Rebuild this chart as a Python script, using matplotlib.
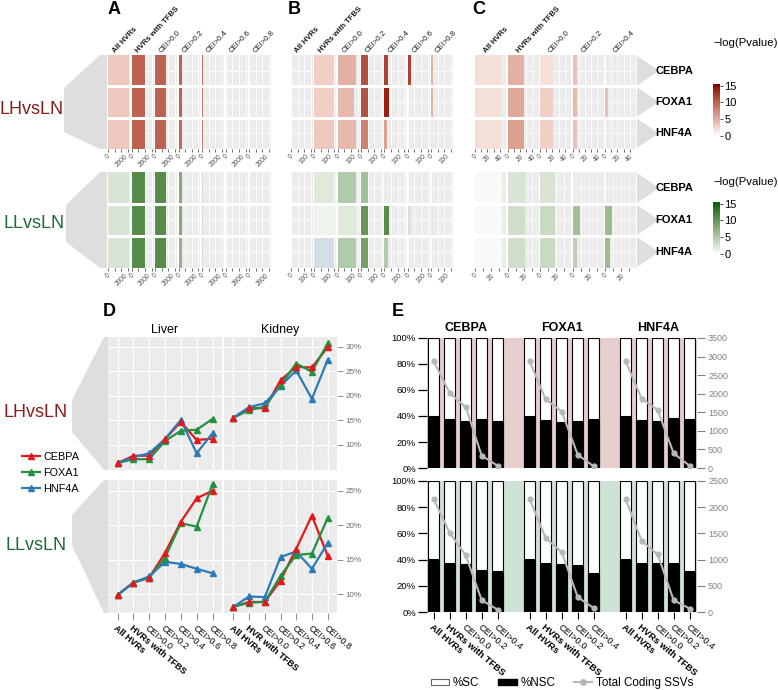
import numpy as np
import matplotlib
matplotlib.use('Agg')
import matplotlib.pyplot as plt
import matplotlib.colors as mcolors
from matplotlib.patches import Polygon, Patch
from matplotlib.lines import Line2D

nan = np.nan

# ---------------- data ----------------
tfs = ['CEBPA', 'FOXA1', 'HNF4A']
cats7 = ['All HVRs', 'HVRs with TFBS', 'CEI>0.0', 'CEI>0.2', 'CEI>0.4', 'CEI>0.6', 'CEI>0.8']
cats5 = cats7[:5]
kidney_cats = ['All HVRs', 'HVR with TFBS', 'CEI>0.0', 'CEI>0.2', 'CEI>0.4', 'CEI>0.6', 'CEI>0.8']

# panels A-C: bar length (count) and fill (-log Pvalue), rows = CEBPA, FOXA1, HNF4A
A_LH_count = [[3150, 2000, 1580, 560, 200, 130, 70],
              [3150, 2000, 1580, 560, 200, 130, 70],
              [3150, 2000, 1580, 560, 200, 130, 70]]
A_LH_logp = [[3.5, 10, 10, 10, 9, 8, 3],
             [3.5, 10, 10, 10, 8, 7, 3],
             [3.5, 10, 10, 9.5, 8, 7, 3]]
A_LL_count = [[3150, 2000, 1580, 560, 200, 130, 0],
              [3150, 2000, 1580, 560, 200, 130, 0],
              [3150, 2000, 1580, 560, 200, 130, 0]]
A_LL_logp = [[2.5, 11, 11, 8, 3, 3, nan],
             [2.5, 11, 11, 8, 3, 3, nan],
             [2.5, 11, 11, 7, 3, 4, nan]]

B_LH_count = [[0, 150, 137, 55, 25, 25, 12],
              [0, 148, 125, 55, 32, 0, 12],
              [0, 150, 135, 50, 22, 0, 10]]
B_LH_logp = [[nan, 3, 5, 11, 12, 12, 5],
             [nan, 3, 4.5, 11, 14, nan, 5],
             [nan, 3.5, 4.5, 8, 6, nan, 2]]
B_LL_count = [[0, 150, 137, 55, 20, 0, 0],
              [0, 150, 137, 55, 32, 25, 12],
              [0, 150, 137, 50, 25, 0, 0]]
B_LL_logp = [[nan, 2, 5, 6, 1.5, nan, nan],
             [nan, 1, 2, 10, 11, 2.5, 2],
             [nan, -1, 5, 9, 5, nan, nan]]

C_LH_count = [[42, 27, 21, 7, 0],
              [42, 27, 21, 7.5, 5],
              [42, 27, 21, 7, 0]]
C_LH_logp = [[2, 5, 2, 4, nan],
             [2, 5.5, 3, 4.5, 4],
             [2, 6, 3, 4, nan]]
C_LL_count = [[33, 22, 18.4, 5.8, 0],
              [33, 22, 18.4, 9.8, 8.2],
              [33, 22, 18.4, 6, 6]]
C_LL_logp = [[0.5, 2.5, 2.5, 1.5, nan],
             [0.5, 3, 3.5, 6, 6.5],
             [0.5, 3, 3.5, 4.5, 6.5]]

# panel D: percentages, rows = CEBPA, FOXA1, HNF4A
D_LH_liver = [[6.3, 7.8, 7.8, 11.2, 14.7, 11.0, 11.3],
              [6.3, 7.1, 7.1, 10.8, 12.9, 13.1, 15.3],
              [6.3, 7.5, 8.3, 11.2, 15.1, 8.3, 12.4]]
D_LH_kidney = [[15.55, 17.6, 17.45, 23.2, 25.9, 25.8, 29.9],
               [15.55, 17.1, 17.8, 22.2, 26.6, 24.9, 30.7],
               [15.55, 17.7, 18.5, 22.0, 25.2, 19.4, 27.3]]
D_LL_liver = [[9.9, 11.7, 12.4, 16.0, 20.5, 23.9, 25.0],
              [9.9, 11.7, 12.4, 15.3, 20.3, 19.8, 25.9],
              [9.9, 11.7, 12.6, 14.7, 14.4, 13.7, 13.05]]
D_LL_kidney = [[8.2, 8.9, 8.9, 12.0, 16.6, 21.4, 15.6],
               [8.2, 8.8, 8.9, 12.7, 15.7, 15.9, 21.0],
               [8.2, 9.7, 9.6, 15.4, 16.2, 13.7, 17.4]]

# panel E: %NSC and total coding SSVs
E_LH_nsc = [[39.7, 37.5, 35.8, 37.5, 35.8],
            [39.7, 36.6, 35.4, 35.8, 37.9],
            [39.7, 37.2, 36.0, 38.5, 37.9]]
E_LH_total = [[2870, 2020, 1640, 330, 60],
              [2870, 1850, 1520, 360, 45],
              [2870, 1870, 1560, 395, 60]]
E_LL_nsc = [[40.2, 37.7, 36.9, 32.4, 31.6],
            [40.2, 37.7, 37.0, 36.0, 30.0],
            [40.2, 37.7, 37.7, 37.7, 31.6]]
E_LL_total = [[2150, 1510, 1080, 225, 45],
              [2155, 1410, 1145, 285, 75],
              [2155, 1355, 1100, 225, 65]]

# ---------------- style ----------------
plt.rcParams['font.family'] = ['Liberation Sans', 'DejaVu Sans']

RED_TXT = '#8B1A1A'
GRN_TXT = '#1D6B35'
line_cols = ['#E3191C', '#23913F', '#2C7BB6']

W, H = 778, 690
fig = plt.figure(figsize=(W / 100, H / 100), dpi=100)


def add_ax(x0, y0, x1, y1):
    return fig.add_axes([x0 / W, 1 - y1 / H, (x1 - x0) / W, (y1 - y0) / H])


def ftext(x, y, s, **kw):
    return fig.text(x / W, 1 - y / H, s, **kw)


def funnel(pts):
    p = Polygon([(x / W, 1 - y / H) for x, y in pts], closed=True,
                transform=fig.transFigure, facecolor='#DEDEDE', edgecolor='none', zorder=-1)
    fig.add_artist(p)


# white -> dark colour, interpolated in Lab space
M = np.array([[0.4124, 0.3576, 0.1805], [0.2126, 0.7152, 0.0722], [0.0193, 0.1192, 0.9505]])
WHITE = M.sum(axis=1)


def to_lab(c):
    rgb = np.array(mcolors.to_rgb(c))
    lin = np.where(rgb <= 0.04045, rgb / 12.92, ((rgb + 0.055) / 1.055) ** 2.4)
    xyz = M @ lin / WHITE
    f = np.where(xyz > 0.008856, np.cbrt(xyz), 7.787 * xyz + 16 / 116)
    return np.array([116 * f[1] - 16, 500 * (f[0] - f[1]), 200 * (f[1] - f[2])])


def lab_cmap(lo, hi):
    t = np.linspace(0, 1, 256)[:, None]
    lab = to_lab(lo) * (1 - t) + to_lab(hi) * t
    fy = (lab[:, 0] + 16) / 116
    f = np.stack([fy + lab[:, 1] / 500, fy, fy - lab[:, 2] / 200], -1)
    xyz = np.where(f > 0.2069, f ** 3, (f - 16 / 116) / 7.787) * WHITE
    lin = np.clip(xyz @ np.linalg.inv(M).T, 0, 1)
    rgb = np.where(lin <= 0.0031308, 12.92 * lin, 1.055 * lin ** (1 / 2.4) - 0.055)
    cm = mcolors.ListedColormap(np.clip(rgb, 0, 1))
    cm.set_under('#D5DDE7')
    return cm


red_cmap = lab_cmap('white', '#8B0000')
grn_cmap = lab_cmap('white', '#006400')
norm = mcolors.Normalize(0, 15)


def heat_block(x0, x1, y0, y1, counts, logp, cmap, xmax, ticks, labels, cats=None):
    n = len(counts[0])
    gap = 1.5
    fw = (x1 - x0 - gap * (n - 1)) / n
    step = ticks[1] - ticks[0]
    minor = np.arange(step / 2, xmax, step)
    for j in range(n):
        left = x0 + j * (fw + gap)
        ax = add_ax(left, y0, left + fw, y1)
        ax.set_facecolor('#EBEBEB')
        ax.set_axisbelow(True)
        for i in range(3):
            v = logp[i][j]
            if counts[i][j] > 0 and not np.isnan(v):
                ax.barh(i + 0.5, counts[i][j], height=1.0, color=cmap(norm(v)), lw=0, zorder=2)
            ax.axhline(i + 0.5, color='white', lw=0.5, zorder=1)
        for b in (1, 2):
            ax.axhline(b, color='white', lw=2.2, zorder=3)
        ax.set_xlim(0, xmax)
        ax.set_ylim(3, 0)
        ax.set_xticks(ticks)
        ax.set_xticklabels(labels, rotation=45, fontsize=4.8, color='#4D4D4D')
        ax.set_xticks(minor, minor=True)
        ax.grid(axis='x', which='major', color='white', lw=0.6)
        ax.grid(axis='x', which='minor', color='#F7F7F7', lw=0.3)
        ax.tick_params(axis='x', which='major', length=2, width=0.5, color='#333333', pad=1)
        ax.tick_params(axis='x', which='minor', length=0)
        ax.set_yticks([])
        for s in ax.spines.values():
            s.set_visible(False)
        if cats is not None:
            ftext(left + fw / 2 - 3, 54, cats[j], rotation=47, rotation_mode='anchor',
                  ha='left', va='bottom', fontsize=5.6,
                  fontweight='bold' if j < 2 else 'normal', color='#1A1A1A')


def colorbar(x0, y0, x1, y1, cmap):
    ax = add_ax(x0, y0, x1, y1)
    grad = np.linspace(0, 15.5, 200)[:, None]
    ax.imshow(grad, cmap=cmap, norm=norm, aspect='auto', origin='lower', extent=(0, 1, 0, 15.5))
    ax.set_ylim(0, 15.5)
    ax.set_xticks([])
    ax.set_yticks([0, 5, 10, 15])
    ax.yaxis.tick_right()
    ax.tick_params(axis='y', length=2, width=0.6, color='#333333', labelsize=8, pad=1)
    for s in ax.spines.values():
        s.set_visible(False)


# ---------------- panels A, B, C ----------------
blocks = [(55, 149, 'LH'), (172, 268, 'LL')]
for y0, y1, comp in blocks:
    cmap = red_cmap if comp == 'LH' else grn_cmap
    top = comp == 'LH'
    heat_block(108, 271, y0, y1, A_LH_count if top else A_LL_count, A_LH_logp if top else A_LL_logp,
               cmap, 3300, [0, 1000, 2000, 3000], ['0', '', '2000', ''], cats7 if top else None)
    heat_block(291, 453, y0, y1, B_LH_count if top else B_LL_count, B_LH_logp if top else B_LL_logp,
               cmap, 165, [0, 50, 100, 150], ['0', '', '100', ''], cats7 if top else None)
    if top:
        heat_block(475, 636, y0, y1, C_LH_count, C_LH_logp, cmap, 50,
                   [0, 10, 20, 30, 40], ['0', '', '20', '', '40'], cats5)
    else:
        heat_block(475, 636, y0, y1, C_LL_count, C_LL_logp, cmap, 38,
                   [0, 10, 20, 30], ['0', '', '20', ''])
    # row labels with arrow shapes
    rh = (y1 - y0) / 3
    for i, tf in enumerate(tfs):
        rt, rb = y0 + i * rh + 1, y0 + (i + 1) * rh - 1
        funnel([(637, rt), (659, (rt + rb) / 2), (637, rb)])
        ftext(655, (rt + rb) / 2, tf, ha='left', va='center', fontsize=8, fontweight='bold')

funnel([(64, 88), (100, 55), (107, 55), (107, 149), (100, 149), (64, 132)])
funnel([(66, 205), (100, 172), (107, 172), (107, 268), (100, 268), (66, 242)])
ftext(32, 110, 'LHvsLN', ha='center', va='center', fontsize=13, color=RED_TXT)
ftext(34, 223, 'LLvsLN', ha='center', va='center', fontsize=13, color=GRN_TXT)

ftext(713, 43, '\u2212log(Pvalue)', ha='left', va='center', fontsize=8.2)
ftext(713, 182, '\u2212log(Pvalue)', ha='left', va='center', fontsize=8.2)
colorbar(713, 84, 720, 136, red_cmap)
colorbar(713, 202, 720, 254, grn_cmap)

for lbl, x, y in [('A', 108, 10), ('B', 288, 10), ('C', 472, 10), ('D', 103, 311), ('E', 392, 311)]:
    ftext(x, y, lbl, ha='left', va='center', fontsize=13, fontweight='bold')

# ---------------- panel D ----------------
d_rows = [(337, 470, D_LH_liver, D_LH_kidney, (4.9, 32.0), [10, 15, 20, 25, 30]),
          (480, 613, D_LL_liver, D_LL_kidney, (7.3, 26.55), [10, 15, 20, 25])]
for r, (y0, y1, liver, kidney, ylim, yt) in enumerate(d_rows):
    for k, (x0, x1, vals, xc) in enumerate([(108, 222, liver, cats7), (224, 337, kidney, kidney_cats)]):
        ax = add_ax(x0, y0, x1, y1)
        ax.set_facecolor('#EBEBEB')
        ax.set_axisbelow(True)
        xs = np.arange(7)
        for i in range(3):
            ax.plot(xs, vals[i], color=line_cols[i], lw=1.6, zorder=2)
        for i in (2, 1, 0):
            ax.plot(xs, vals[i], ls='none', marker='^', ms=5, color=line_cols[i], zorder=3)
        ax.set_xlim(-0.6, 6.6)
        ax.set_ylim(*ylim)
        ax.set_xticks(xs)
        ax.set_xticks(xs[:-1] + 0.5, minor=True)
        ax.set_yticks(yt)
        ax.set_yticks(np.arange(yt[0] - 2.5, ylim[1], 5), minor=True)
        ax.grid(which='major', color='white', lw=0.8)
        ax.grid(which='minor', color='#F5F5F5', lw=0.4)
        for s in ax.spines.values():
            s.set_visible(False)
        ax.tick_params(which='minor', length=0)
        if k == 1:
            ax.yaxis.tick_right()
            ax.set_yticklabels([f'{v}%' for v in yt])
            ax.tick_params(axis='y', which='major', length=4, width=0.6, color='#7F7F7F',
                           labelcolor='#6E6E6E', labelsize=5.8, pad=2)
        else:
            ax.tick_params(axis='y', which='major', left=False, labelleft=False)
        if r == 1:
            ax.set_xticklabels(xc, rotation=-40, ha='left', va='top', rotation_mode='anchor', fontsize=6.5)
            for t, lab in zip(ax.get_xticklabels(), xc):
                if not lab.startswith('CEI'):
                    t.set_fontweight('bold')
            ax.tick_params(axis='x', which='major', length=5, width=0.6, color='#7F7F7F', pad=3)
        else:
            ax.tick_params(axis='x', which='major', bottom=False, labelbottom=False)
        if r == 0:
            ax.set_title('Liver' if k == 0 else 'Kidney', fontsize=9, pad=3)
        if r == 0 and k == 0:
            d_handles = [Line2D([], [], color=c, lw=1.6, marker='^', ms=5) for c in line_cols]

funnel([(72, 400), (104, 337), (108, 337), (108, 470), (104, 470), (72, 432)])
funnel([(72, 515), (104, 480), (108, 480), (108, 613), (104, 613), (72, 545)])
ftext(36, 413, 'LHvsLN', ha='center', va='center', fontsize=13, color=RED_TXT)
ftext(36, 545, 'LLvsLN', ha='center', va='center', fontsize=13, color=GRN_TXT)
fig.legend(d_handles, tfs, loc='center left', bbox_to_anchor=(12 / W, 1 - 473 / H), frameon=False,
           handlelength=1.7, handletextpad=0.3, labelspacing=0.55, prop={'size': 7.8})

# ---------------- panel E ----------------
e_pos = [np.arange(1, 6), np.arange(7, 12), np.arange(13, 18)]
e_rows = [(338, 468, E_LH_nsc, E_LH_total, '#E6CECD', 3500),
          (481, 612, E_LL_nsc, E_LL_total, '#CFE3D5', 2500)]
for r, (y0, y1, nsc, total, bg, tmax) in enumerate(e_rows):
    ax = add_ax(427, y0, 697, y1)
    ax.set_facecolor(bg)
    ax2 = ax.twinx()
    for g in range(3):
        ax.bar(e_pos[g], [100] * 5, width=0.7, color='white', edgecolor='black', lw=0.8)
        ax.bar(e_pos[g], nsc[g], width=0.7, color='black', edgecolor='black', lw=0.8)
        ax2.plot(e_pos[g], total[g], color='#B8B8B8', lw=1.5, marker='o', ms=3.5)
    ax.set_xlim(0.58, 17.46)
    ax.set_ylim(0, 100)
    ax2.set_ylim(0, tmax)
    ax.set_yticks(range(0, 101, 20))
    ax.set_yticklabels([f'{v}%' for v in range(0, 101, 20)])
    ax.tick_params(axis='y', length=6.5, width=0.9, color='black', labelsize=6.8, pad=1.5)
    ax2.set_yticks(range(0, tmax + 1, 500))
    ax2.tick_params(axis='y', length=6, width=0.8, colors='#808080', labelsize=6.5, pad=2)
    for s in list(ax.spines.values()) + list(ax2.spines.values()):
        s.set_visible(False)
    allpos = np.concatenate(e_pos)
    ax.set_xticks(allpos)
    if r == 1:
        labs = cats5 * 3
        ax.set_xticklabels(labs, rotation=-40, ha='left', va='top', rotation_mode='anchor', fontsize=6.8)
        for t, lab in zip(ax.get_xticklabels(), labs):
            if not lab.startswith('CEI'):
                t.set_fontweight('bold')
        ax.tick_params(axis='x', length=5, width=0.8, color='black', pad=3)
    else:
        ax.tick_params(axis='x', bottom=False, labelbottom=False)
        for g, tf in enumerate(tfs):
            ax.text(e_pos[g].mean(), 103, tf, ha='center', va='bottom', fontsize=9,
                    fontweight='bold')

e_handles = [Patch(facecolor='white', edgecolor='#666666', lw=0.8),
             Patch(facecolor='black', edgecolor='black'),
             Line2D([], [], color='#B8B8B8', lw=1.5, marker='o', ms=4)]
fig.legend(e_handles, ['%SC', '%NSC', 'Total Coding SSVs'], loc='center', ncol=3,
           bbox_to_anchor=(562 / W, 1 - 683 / H), frameon=False, handlelength=1.6, handleheight=0.5,
           handletextpad=0.3, columnspacing=1.6, prop={'size': 8.4})

fig.savefig('out.png', dpi=100)
